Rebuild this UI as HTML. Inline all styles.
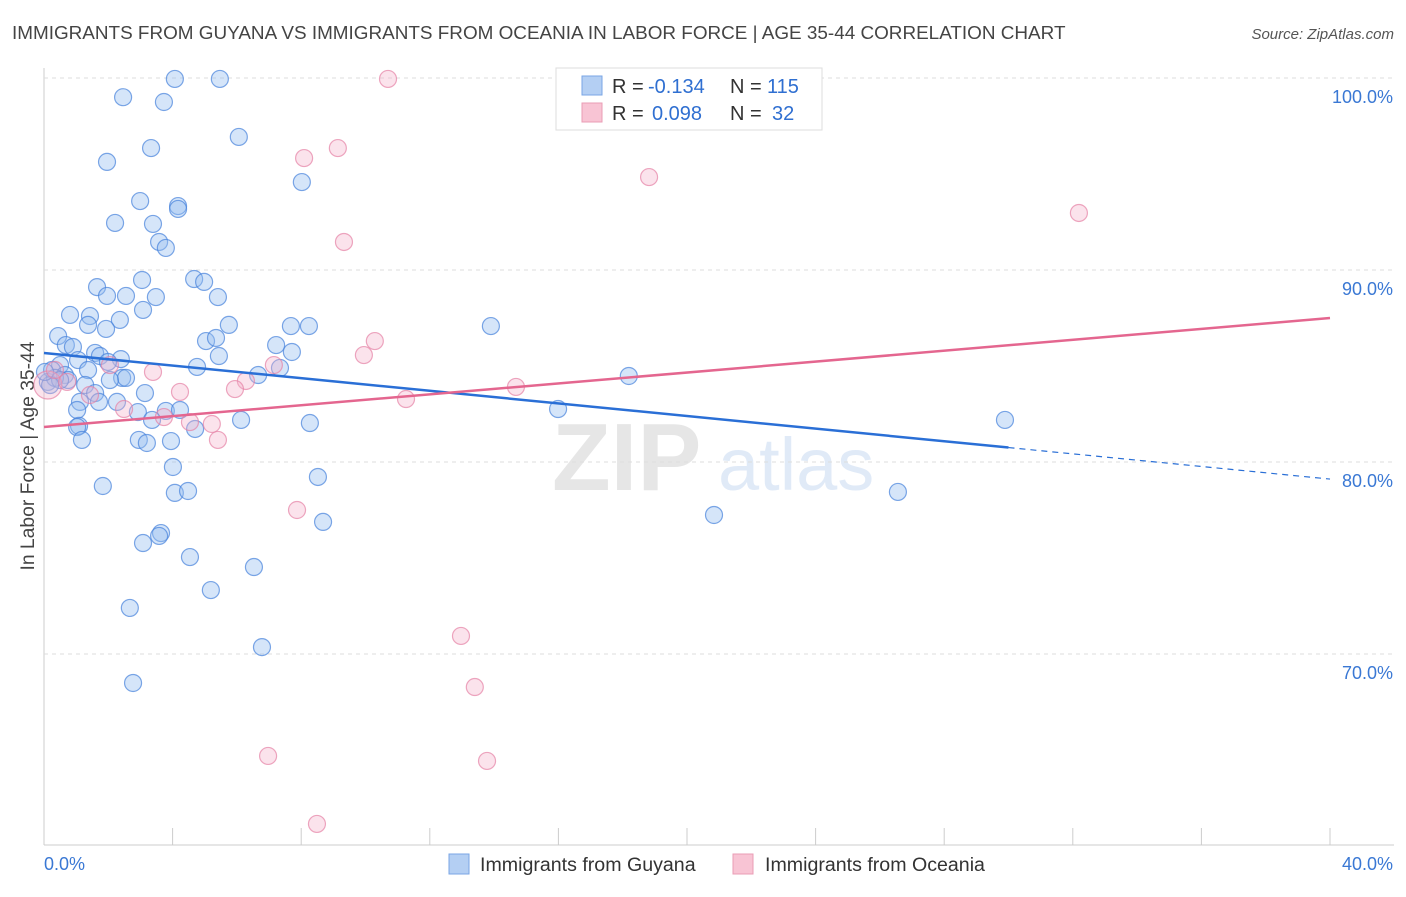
<!DOCTYPE html>
<html><head><meta charset="utf-8"><style>
body{margin:0;background:#fff;font-family:"Liberation Sans",sans-serif;}
svg text{font-family:"Liberation Sans",sans-serif;}
</style></head><body>
<svg id="chart" width="1406" height="892" xmlns="http://www.w3.org/2000/svg">
<text x="12" y="39" font-size="18.9" fill="#444">IMMIGRANTS FROM GUYANA VS IMMIGRANTS FROM OCEANIA IN LABOR FORCE | AGE 35-44 CORRELATION CHART</text>
<text x="1394" y="39" font-size="15" fill="#555" text-anchor="end" font-style="italic">Source: ZipAtlas.com</text>
<text transform="translate(34,456) rotate(-90)" font-size="19.3" fill="#444" text-anchor="middle">In Labor Force | Age 35-44</text>
<g opacity="0.18">
<text x="552" y="490" font-size="96" font-family="Liberation Serif" fill="#777" font-weight="bold">ZIP</text>
<text x="718" y="490" font-size="74" fill="#5b8fd8">atlas</text>
</g>
<g id="grid"></g><g id="pts"></g><g id="lines"></g>
<g>
<rect x="556" y="68" width="266" height="62" fill="#fff" stroke="#ddd"/>
<rect x="582" y="76" width="20" height="19" fill="#b4cff3" stroke="#7aa6e4"/>
<rect x="582" y="103" width="20" height="19" fill="#f8c4d4" stroke="#ea9cb5"/>
<text x="612" y="93" font-size="20" fill="#333">R =</text>
<text x="648" y="93" font-size="20" fill="#2f6fd1">-0.134</text>
<text x="730" y="93" font-size="20" fill="#333">N =</text>
<text x="767" y="93" font-size="20" fill="#2f6fd1">115</text>
<text x="612" y="120" font-size="20" fill="#333">R =</text>
<text x="652" y="120" font-size="20" fill="#2f6fd1">0.098</text>
<text x="730" y="120" font-size="20" fill="#333">N =</text>
<text x="772" y="120" font-size="20" fill="#2f6fd1">32</text>
</g>
<g>
<rect x="449" y="854" width="20" height="20" fill="#b4cff3" stroke="#7aa6e4"/>
<text x="480" y="871" font-size="19.6" fill="#333">Immigrants from Guyana</text>
<rect x="733" y="854" width="20" height="20" fill="#f8c4d4" stroke="#ea9cb5"/>
<text x="765" y="871" font-size="19.6" fill="#333">Immigrants from Oceania</text>
</g>
</svg>
<script>
const yTicks=[100,90,80,70];
const yTickLabels=["100.0%","90.0%","80.0%","70.0%"];
const xTicks=[0,4,8,12,16,20,24,28,32,36,40];
const blueX=[4.07,5.47,2.46,3.73,6.06,3.33,1.96,8.02,2.99,4.17,4.17,2.21,3.39,3.58,3.79,3.05,4.67,4.98,1.65,1.96,2.55,3.48,5.41,3.08,0.81,1.43,2.36,1.37,5.75,7.68,8.24,13.90,1.93,0.44,5.04,5.35,7.22,0.68,0.90,7.71,5.44,1.59,1.74,2.39,1.06,1.99,0.50,4.76,7.34,0.25,1.37,0.65,2.43,2.55,6.66,18.19,0.12,0.75,2.05,0.34,1.28,3.14,1.59,1.71,1.12,2.27,1.03,2.92,3.79,4.23,15.99,29.89,3.36,6.13,8.27,1.09,4.70,1.03,1.18,2.95,3.20,3.95,4.01,8.52,1.83,4.07,4.48,8.68,20.84,26.56,3.64,3.58,3.08,4.54,6.53,5.19,2.67,6.78,2.77,0.50,0.19,0.03];
const blueY=[99.95,99.95,99.0,98.75,96.93,96.35,95.63,94.58,93.59,93.33,93.18,92.45,92.40,91.46,91.15,89.48,89.53,89.38,89.11,88.65,88.65,88.59,88.59,87.92,87.66,87.60,87.40,87.14,87.14,87.08,87.08,87.08,86.93,86.56,86.30,86.46,86.09,86.09,85.99,85.73,85.52,85.68,85.52,85.36,85.31,85.21,85.05,84.95,84.90,84.79,84.79,84.53,84.38,84.38,84.53,84.48,84.17,84.27,84.27,84.38,84.01,83.59,83.59,83.13,83.13,83.13,82.71,82.60,82.66,82.71,82.76,82.19,82.19,82.19,82.03,81.88,81.72,81.82,81.15,81.15,80.99,81.09,79.74,79.22,78.75,78.39,78.49,76.88,77.24,78.44,76.30,76.15,75.78,75.05,74.53,73.33,72.40,70.36,68.49,84.27,84.01,84.69];
const pinkX=[10.70,9.14,8.09,18.82,32.19,9.33,10.29,9.95,7.15,0.12,3.39,0.72,6.28,5.94,4.23,14.68,11.26,2.49,3.73,5.22,4.54,5.41,7.87,12.97,13.40,6.97,13.78,8.49,0.34,2.05,1.43];
const pinkY=[99.95,96.35,95.83,94.84,92.97,91.46,86.30,85.57,85.05,84.01,84.69,84.17,84.22,83.80,83.65,83.91,83.28,82.76,82.34,81.98,82.08,81.15,77.50,70.94,68.28,64.69,64.43,61.15,84.79,85.05,83.49];
const blueLine=[85.68,79.11]; const blueSolidEnd=30;
const pinkLine=[81.82,87.5];
const X=v=>44+v/40*1286, Y=v=>78+(100-v)*19.2;
const NS="http://www.w3.org/2000/svg";
function mk(tag,attrs,parent){const e=document.createElementNS(NS,tag);for(const k in attrs)e.setAttribute(k,attrs[k]);document.getElementById(parent).appendChild(e);return e;}
let ax=mk('line',{x1:44,y1:68,x2:44,y2:845,stroke:'#ccc'},'grid');


let bx=mk('line',{x1:44,y1:845,x2:1394,y2:845,stroke:'#ccc'},'grid');


yTicks.forEach((t,i)=>{
 const g=mk('line',{x1:44,y1:Y(t),x2:1394,y2:Y(t),stroke:'#ddd','stroke-dasharray':'4,4'},'grid');
 
 
 const l=mk('text',{x:1393,y:Y(t)+25,'font-size':18,fill:'#3a78d4','text-anchor':'end'},'grid');l.textContent=yTickLabels[i];
 
 
});
xTicks.forEach(t=>{
 const g=mk('line',{x1:X(t),y1:828,x2:X(t),y2:845,stroke:'#ccc'},'grid');
 
 
});
const xl=mk('text',{x:44,y:870,'font-size':18,fill:'#3a78d4'},'grid');xl.textContent='0.0%';


const xr=mk('text',{x:1393,y:870,'font-size':18,fill:'#3a78d4','text-anchor':'end'},'grid');xr.textContent='40.0%';


blueX.forEach((v,i)=>{
 const c=mk('circle',{cx:X(v),cy:Y(blueY[i]),r:8.5,fill:'rgba(150,190,240,0.4)',stroke:'rgba(70,130,220,0.7)','stroke-width':1.2},'pts');
 
 
});
pinkX.forEach((v,i)=>{
 const c=mk('circle',{cx:X(v),cy:Y(pinkY[i]),r:i==9?14:8.5,fill:'rgba(244,176,200,0.35)',stroke:'rgba(230,130,165,0.7)','stroke-width':1.2},'pts');
 
 
});
const by=x=>blueLine[0]+(blueLine[1]-blueLine[0])*x/40;
let b1=mk('line',{x1:X(0),y1:Y(by(0)),x2:X(blueSolidEnd),y2:Y(by(blueSolidEnd)),stroke:'#2a6fd6','stroke-width':2.5},'lines');


let b2=mk('line',{x1:X(blueSolidEnd),y1:Y(by(blueSolidEnd)),x2:X(40),y2:Y(by(40)),stroke:'#2a6fd6','stroke-width':1.2,'stroke-dasharray':'6,5'},'lines');


let p1=mk('line',{x1:X(0),y1:Y(pinkLine[0]),x2:X(40),y2:Y(pinkLine[1]),stroke:'#e4668f','stroke-width':2.5},'lines');


</script>
</body></html>
